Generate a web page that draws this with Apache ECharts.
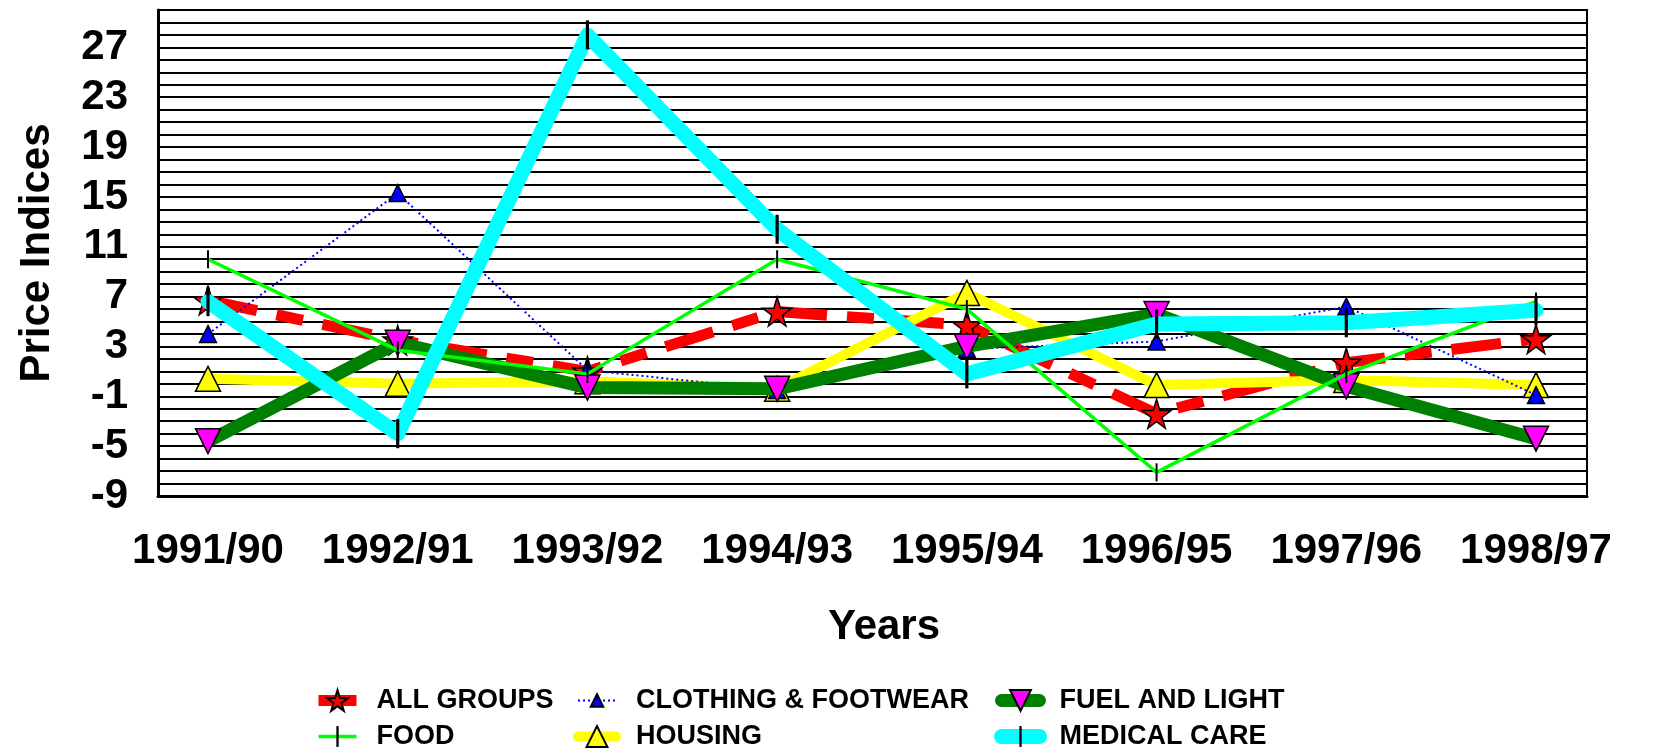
<!DOCTYPE html>
<html>
<head>
<meta charset="utf-8">
<script src="https://cdn.jsdelivr.net/npm/echarts@6/dist/echarts.min.js"></script>
<style>
  html, body { margin: 0; padding: 0; background: #fff; }
  #chart { width: 1654px; height: 753px; }
</style>
</head>
<body>
<div id="chart"></div>
<script>
// categories
var years = ['1991/90', '1992/91', '1993/92', '1994/93', '1995/94', '1996/95', '1997/96', '1998/97'];

// series values
var allGroups = [6.7, 3.5, 1.0, 5.8, 4.7, -2.4, 1.7, 3.6];
var clothing = [4.0, 15.3, 1.1, -0.5, 2.8, 3.4, 6.2, -0.9];
var fuel = [-4.6, 3.3, -0.3, -0.4, 3.0, 5.6, -0.2, -4.4];
var food = [10.0, 2.7, 0.8, 10.0, 6.0, -7.1, 0.8, 6.6];
var housing = [0.4, 0.0, 0.2, -0.4, 7.3, -0.1, 0.3, -0.1];
var medical = [6.6, -4.0, 28.0, 12.4, 0.8, 4.8, 4.9, 5.9];

// y tick labels
var yTicks = [-9, -5, -1, 3, 7, 11, 15, 19, 23, 27];

var FONT = "'Liberation Sans', Arial, sans-serif";

// symbols (padded with empty corners so legend icons keep the right shape)
var STAR = 'path://M50,0 L61,35 L98,35 L68,57 L79,91 L50,70 L21,91 L32,57 L2,35 L39,35 Z';
var SMALL_TRI = 'path://M0,0L0,0M10,0L10,0M0,10L0,10M10,10L10,10M5,2L8,8L2,8Z';
var TICK = 'path://M0,0L0,0M20,0L20,0M0,20L0,20M20,20L20,20M8.9,0L11.1,0L11.1,20L8.9,20Z';

var chart = echarts.init(document.getElementById('chart'));

function legendCol(left, names) {
  return {
    orient: 'vertical', left: left, top: 687, padding: 0,
    itemWidth: 38, itemHeight: 26, itemGap: 9,
    textStyle: { color: '#000', fontSize: 27, fontWeight: 'bold', fontFamily: FONT, padding: [0, 0, 0, 15] },
    lineStyle: { width: 'inherit' },
    data: names
  };
}

var option = {
  animation: false,
  backgroundColor: '#fff',
  textStyle: { fontFamily: FONT },
  grid: [
    { left: 158, right: 67, top: 10, bottom: 257, show: true, borderColor: '#000', borderWidth: 2 },
    { left: 208, right: 118, top: 10, bottom: 257 }
  ],
  xAxis: [{
    gridIndex: 0,
    type: 'value',
    min: 0,
    max: 1,
    axisLine: { show: true, onZero: false, lineStyle: { color: '#000', width: 3 } },
    axisTick: { show: false },
    axisLabel: { show: false },
    splitLine: { show: false }
  }, {
    gridIndex: 1,
    type: 'category',
    data: years,
    boundaryGap: false,
    axisLine: { show: false },
    axisTick: { show: false },
    axisLabel: { interval: 0, color: '#000', fontSize: 42, fontWeight: 'bold', margin: 34, fontFamily: FONT },
    name: 'Years',
    nameLocation: 'middle',
    nameGap: 110,
    nameTextStyle: { color: '#000', fontSize: 42, fontWeight: 'bold', fontFamily: FONT, padding: [0, 0, 0, 24] }
  }],
  yAxis: [{
    gridIndex: 0,
    type: 'value',
    min: -9,
    max: 30,
    interval: 1,
    axisLine: { show: true, onZero: false, lineStyle: { color: '#000', width: 3 } },
    axisTick: { show: false },
    splitLine: { show: true, lineStyle: { color: '#000', width: 2 } },
    axisLabel: {
      color: '#000', fontSize: 42, fontWeight: 'bold', margin: 30, fontFamily: FONT,
      formatter: function (v) { return yTicks.indexOf(v) >= 0 ? String(v) : ''; }
    },
    name: 'Price Indices',
    nameLocation: 'middle',
    nameGap: 100,
    nameTextStyle: { color: '#000', fontSize: 42, fontWeight: 'bold', fontFamily: FONT }
  }, {
    gridIndex: 1,
    type: 'value',
    min: -9,
    max: 30,
    show: false,
    splitLine: { show: false }
  }],
  legend: [
    legendCol(313, ['ALL GROUPS', 'FOOD']),
    legendCol(573, ['CLOTHING & FOOTWEAR', 'HOUSING']),
    legendCol(994, ['FUEL AND LIGHT', 'MEDICAL CARE'])
  ],
  series: [{
    name: 'ALL GROUPS',
    type: 'line',
    xAxisIndex: 1, yAxisIndex: 1,
    z: 2,
    data: allGroups,
    symbol: STAR,
    symbolSize: 29,
    lineStyle: { color: '#ff0000', width: 11, type: [50, 20, 27, 20], cap: 'butt' },
    itemStyle: { color: '#ff0000', borderColor: '#000', borderWidth: 1.5 }
  }, {
    name: 'CLOTHING & FOOTWEAR',
    type: 'line',
    xAxisIndex: 1, yAxisIndex: 1,
    z: 4,
    data: clothing,
    symbol: SMALL_TRI,
    symbolSize: 28,
    lineStyle: { color: '#0000ff', width: 2, type: [2, 3] },
    itemStyle: { color: '#0000ff', borderColor: '#000', borderWidth: 1.5 }
  }, {
    name: 'FUEL AND LIGHT',
    type: 'line',
    xAxisIndex: 1, yAxisIndex: 1,
    z: 5,
    data: fuel,
    symbol: 'triangle',
    symbolRotate: 180,
    symbolSize: 25,
    lineStyle: { color: '#008000', width: 13, cap: 'round', join: 'round' },
    itemStyle: { color: '#ff00ff', borderColor: '#000', borderWidth: 1.5 }
  }, {
    name: 'FOOD',
    type: 'line',
    xAxisIndex: 1, yAxisIndex: 1,
    z: 6,
    data: food,
    symbol: TICK,
    symbolSize: 18,
    lineStyle: { color: '#00ff00', width: 3.5 },
    itemStyle: { color: '#000', borderWidth: 0 }
  }, {
    name: 'HOUSING',
    type: 'line',
    xAxisIndex: 1, yAxisIndex: 1,
    z: 3,
    data: housing,
    symbol: 'triangle',
    symbolSize: 25,
    lineStyle: { color: '#ffff00', width: 10, cap: 'round', join: 'round' },
    itemStyle: { color: '#ffff00', borderColor: '#000', borderWidth: 1.5 }
  }, {
    name: 'MEDICAL CARE',
    type: 'line',
    xAxisIndex: 1, yAxisIndex: 1,
    z: 7,
    data: medical,
    symbol: TICK,
    symbolSize: 29,
    lineStyle: { color: '#00ffff', width: 15, cap: 'round', join: 'round' },
    itemStyle: { color: '#000', borderWidth: 0 }
  }]
};

chart.setOption(option);
</script>
</body>
</html>
